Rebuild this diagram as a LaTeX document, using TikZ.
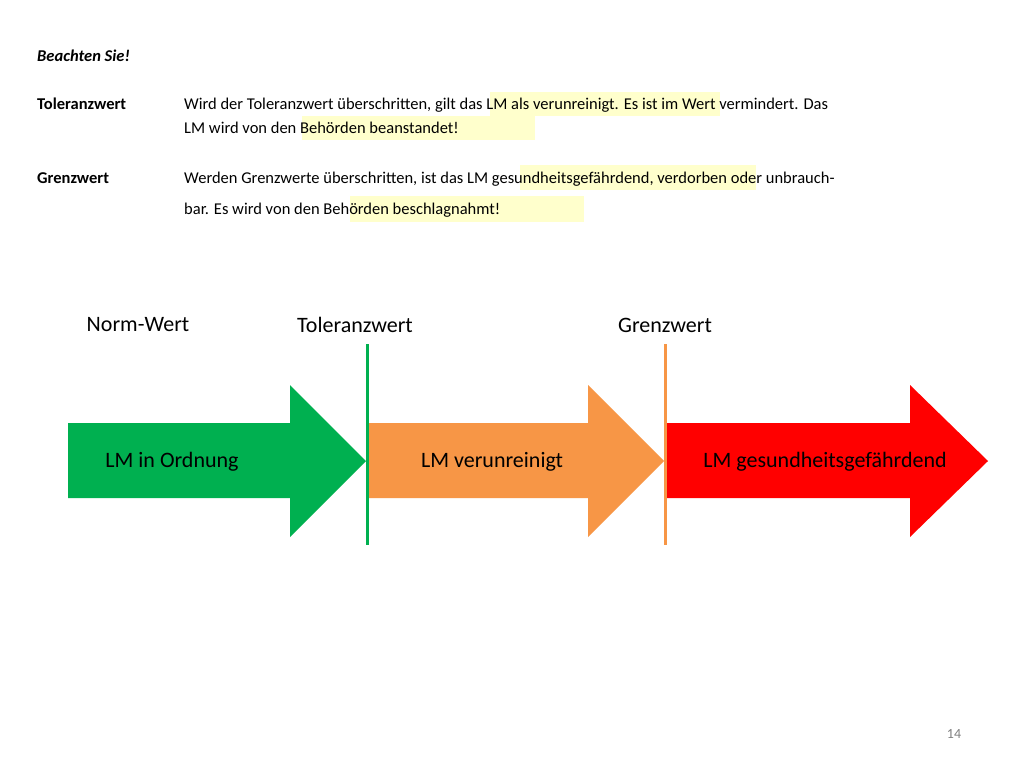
\documentclass[tikz,border=0pt]{standalone}
\usepackage{fontspec}
\setmainfont{Carlito}
\definecolor{cgreen}{HTML}{00B050}
\definecolor{corange}{HTML}{F79646}
\definecolor{cred}{HTML}{FF0000}
\definecolor{hl}{HTML}{FFFFCC}
\begin{document}
\begin{tikzpicture}[x=1pt,y=-1pt,
  body/.style={font=\fontsize{16.5}{19}\selectfont,anchor=base west,inner sep=0pt},
  lbl/.style={font=\fontsize{22}{26}\selectfont,inner sep=0pt},
  hlbox/.style={fill=hl,draw=none}]
\useasboundingbox (0,0) rectangle (1024,768);
\fill[white] (0,0) rectangle (1024,768);
% highlights
\fill[hl] (490,92) rectangle (720,116);
\fill[hl] (302,116) rectangle (535,140);
\fill[hl] (520,165) rectangle (756,190);
\fill[hl] (350,196) rectangle (584,222);
\node[body,font=\fontsize{16.5}{19}\selectfont\bfseries\itshape] (t0) at (37,61) {Beachten Sie!};
\node[body,font=\fontsize{16.5}{19}\selectfont\bfseries] (t1) at (37,109) {Toleranzwert};
\node[body] (l1) at (184,109) {Wird der Toleranzwert überschritten, gilt das LM als verunreinigt. Es ist im Wert vermindert. Das};
\node[body] (l2) at (184,133) {LM wird von den Behörden beanstandet!};
\node[body,font=\fontsize{16.5}{19}\selectfont\bfseries] (t2) at (37,183) {Grenzwert};
\node[body] (l3) at (184,183) {Werden Grenzwerte überschritten, ist das LM gesundheitsgefährdend, verdorben oder unbrauch-};
\node[body] (l4) at (184,214) {bar. Es wird von den Behörden beschlagnahmt!};
% arrows
\fill[cgreen] (68,423) -- (290,423) -- (290,385) -- (366,461) -- (290,537) -- (290,498) -- (68,498) -- cycle;
\fill[corange] (368,423) -- (588,423) -- (588,385) -- (664,461) -- (588,537) -- (588,498) -- (368,498) -- cycle;
\fill[cred] (666,423) -- (910,423) -- (910,385) -- (988,461) -- (910,537) -- (910,498) -- (666,498) -- cycle;
\draw[cgreen,line width=3pt] (367,344) -- (367,545);
\draw[corange,line width=3pt] (665,344) -- (665,545);
\node[lbl] (a1) at (172,462) {LM in Ordnung};
\node[lbl] (a2) at (492,462) {LM verunreinigt};
\node[lbl] (a3) at (825,462) {LM gesundheitsgefährdend};
\node[lbl] (n1) at (138,325) {Norm-Wert};
\node[lbl] (n2) at (355,325) {Toleranzwert};
\node[lbl] (n3) at (665,325) {Grenzwert};
\node[font=\fontsize{14}{16}\selectfont,text=gray,inner sep=0pt] (pg) at (954,734) {14};
\end{tikzpicture}
\end{document}
